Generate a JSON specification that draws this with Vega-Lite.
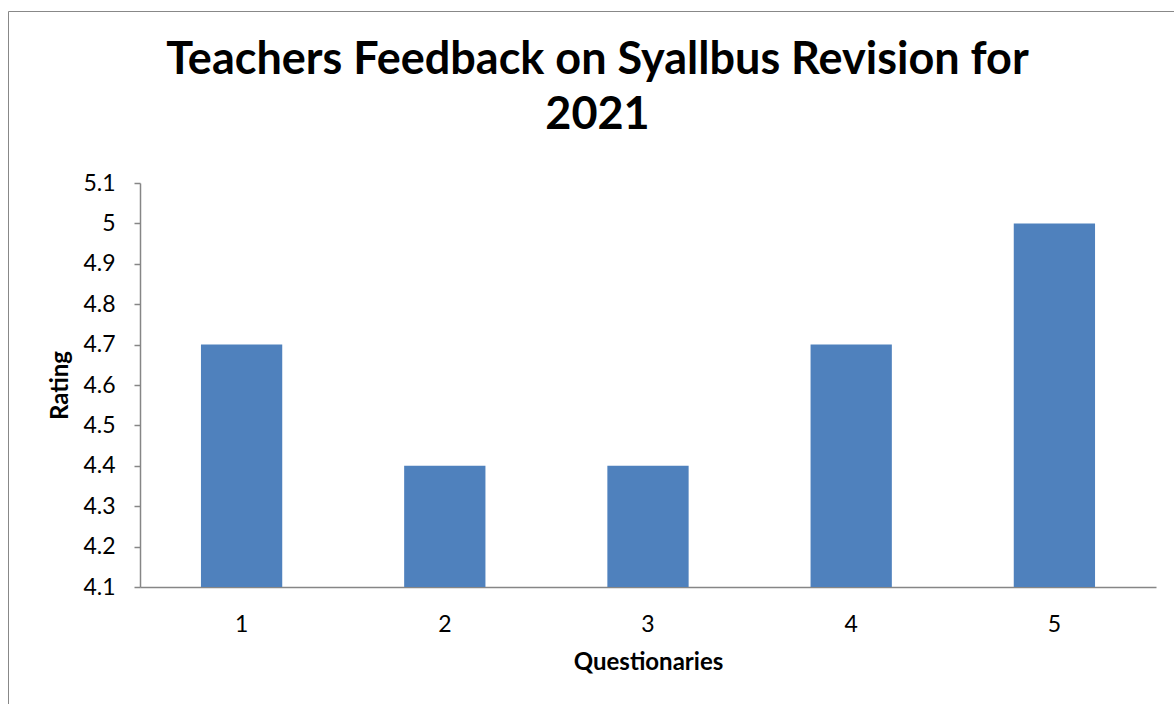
{
  "$schema": "https://vega.github.io/schema/vega-lite/v6.json",
  "width": 1200,
  "height": 720,
  "autosize": {"type": "none"},
  "padding": {"left": 8, "top": 11, "right": 0, "bottom": 0},
  "background": "white",
  "config": {"view": {"stroke": "#888888", "strokeWidth": 1}, "font": "Lato"},
  "title": {
    "text": ["Teachers Feedback on Syallbus Revision for", "2021"],
    "font": "Lato",
    "fontSize": 45,
    "fontWeight": "bold",
    "color": "black",
    "anchor": "middle",
    "frame": "group",
    "dx": -10.5,
    "offset": -163,
    "lineHeight": 55,
    "baseline": "alphabetic"
  },
  "data": {
    "values": [
      {"q": "1", "rating": 4.7},
      {"q": "2", "rating": 4.4},
      {"q": "3", "rating": 4.4},
      {"q": "4", "rating": 4.7},
      {"q": "5", "rating": 5.0}
    ]
  },
  "mark": {"type": "bar", "color": "#4F81BD"},
  "encoding": {
    "x": {
      "field": "q",
      "type": "ordinal",
      "scale": {"range": [132, 1148], "paddingInner": 0.6, "paddingOuter": 0.3},
      "axis": {
        "orient": "bottom",
        "offset": -144,
        "ticks": false,
        "grid": false,
        "domainColor": "#868686",
        "domainWidth": 1.5,
        "labelAngle": 0,
        "labelFont": "Lato",
        "labelFontSize": 23,
        "labelColor": "black",
        "labelPadding": 26,
        "title": "Questionaries",
        "titleFont": "Lato",
        "titleFontSize": 24,
        "titleFontWeight": "bold",
        "titleColor": "black",
        "titleY": 82,
        "titleBaseline": "alphabetic"
      }
    },
    "y": {
      "field": "rating",
      "type": "quantitative",
      "scale": {"domain": [4.1, 5.1], "range": [576, 172], "zero": false, "nice": false},
      "axis": {
        "orient": "left",
        "offset": -132,
        "values": [4.1, 4.2, 4.3, 4.4, 4.5, 4.6, 4.7, 4.8, 4.9, 5, 5.1],
        "format": "~g",
        "grid": false,
        "labelOverlap": false,
        "domainColor": "#868686",
        "domainWidth": 1.5,
        "tickColor": "#868686",
        "tickWidth": 1.5,
        "tickSize": 6,
        "labelFont": "Lato",
        "labelFontSize": 23,
        "labelColor": "black",
        "labelPadding": 19,
        "title": "Rating",
        "titleFont": "Lato",
        "titleFontSize": 24,
        "titleFontWeight": "bold",
        "titleColor": "black",
        "titleX": -73,
        "titleBaseline": "alphabetic"
      }
    },
    "y2": {"datum": 4.1}
  }
}
